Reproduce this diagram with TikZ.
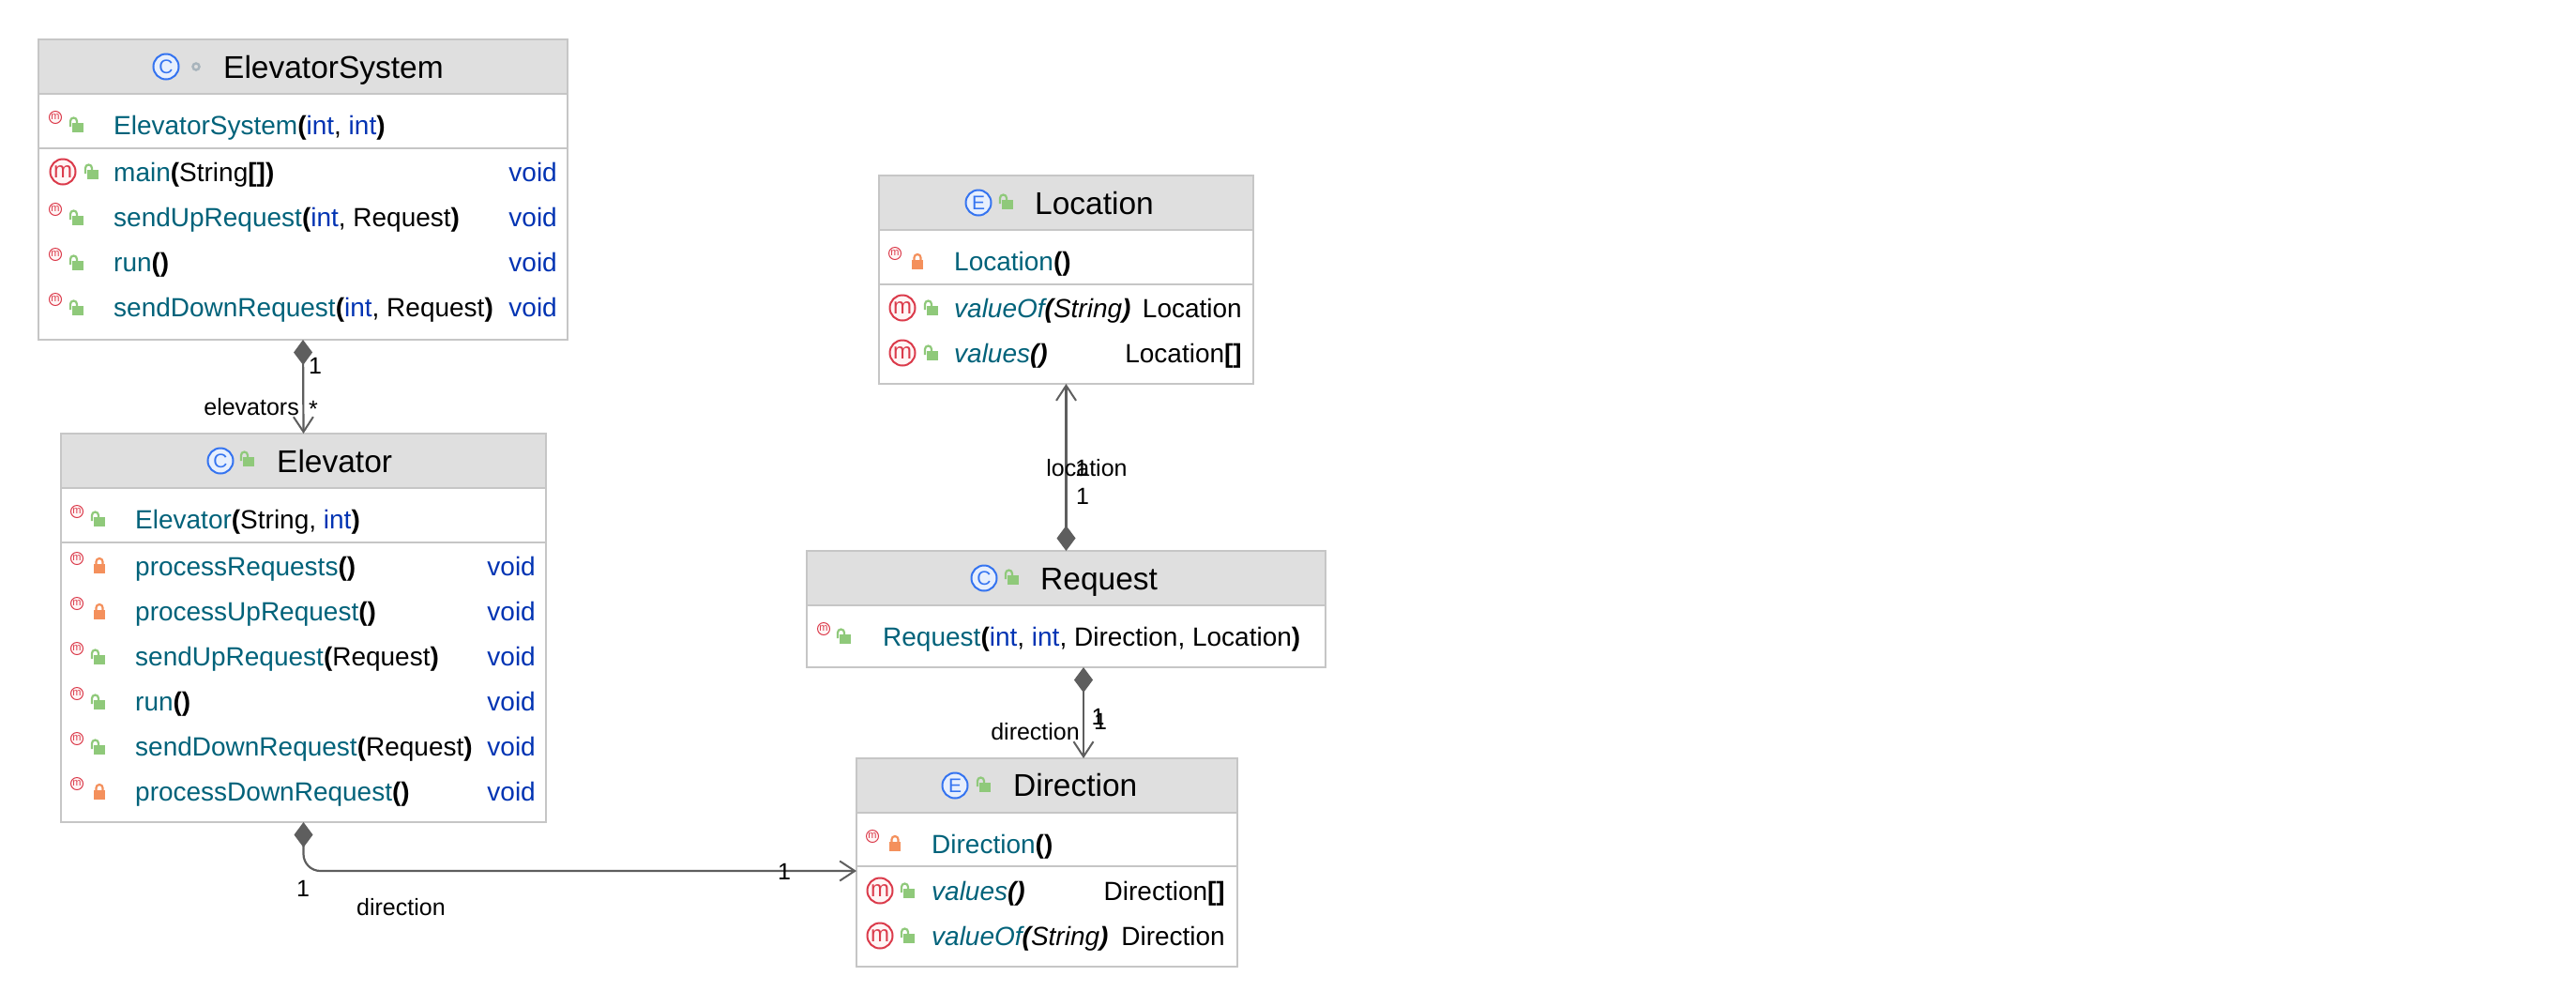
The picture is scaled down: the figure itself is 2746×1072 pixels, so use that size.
\documentclass[tikz,border=0pt]{standalone}
\usepackage{fontspec}
\setmainfont{Liberation Sans}
\usetikzlibrary{positioning,arrows.meta}
\definecolor{boxgray}{HTML}{C6C6C6}
\definecolor{headgray}{HTML}{DFDFDF}
\definecolor{linkgray}{HTML}{5E5E5E}
\definecolor{nameteal}{HTML}{00627A}
\definecolor{typeblue}{HTML}{0033B3}
\definecolor{iconblue}{HTML}{3574F0}
\definecolor{iconpale}{HTML}{E7EFFD}
\definecolor{iconred}{HTML}{DB3B4B}
\definecolor{iconrose}{HTML}{FFF5F5}
\definecolor{dotgray}{HTML}{A8B4BC}
\definecolor{opengreen}{HTML}{8FC97A}
\definecolor{shutorange}{HTML}{F4905C}
\newcommand{\nm}[1]{\textcolor{nameteal}{#1}}
\newcommand{\ty}[1]{\textcolor{typeblue}{#1}}
\newcommand{\pn}[1]{\textbf{#1}}
\tikzset{%
  classbox/.style={draw=boxgray,fill=white,line width=1.6pt,inner sep=0pt,outer sep=0pt,anchor=north west},
  classhead/.style={draw=boxgray,fill=headgray,line width=1.6pt,inner sep=0pt,outer sep=0pt,minimum height=58pt},
  divider/.style={draw=boxgray,line width=2.6pt},
  title/.style={font=\fontsize{33.5}{38}\selectfont,inner sep=0pt,anchor=base west},
  row/.style={font=\fontsize{28}{32}\selectfont,inner sep=0pt,anchor=base west},
  ret/.style={font=\fontsize{28}{32}\selectfont,inner sep=0pt,anchor=base east},
  lab/.style={font=\fontsize{25}{30}\selectfont,inner sep=0pt,anchor=base},
  kindicon/.style={circle,draw=iconblue,fill=iconpale,line width=2pt,minimum size=27pt,inner sep=0pt,text=iconblue,font=\fontsize{21}{22}\selectfont},
  bigm/.style={circle,draw=iconred,fill=iconrose,line width=2pt,minimum size=27pt,inner sep=0pt,text=iconred,font=\fontsize{24}{25}\selectfont},
  smallm/.style={circle,draw=iconred,fill=iconrose,line width=1pt,minimum size=13pt,inner sep=0pt,text=iconred,font=\fontsize{11}{12}\selectfont},
  dotmark/.style={circle,draw=dotgray,line width=2.5pt,minimum size=7pt,inner sep=0pt},
  link/.style={draw=linkgray,line width=2.2pt,
    {Diamond[length=27pt,width=20pt,line width=0pt,fill=linkgray]}-{Straight Barb[length=16pt,width=21pt,line width=2pt]}},
  pics/unlocked/.style={code={
    \fill[opengreen] (-6,-5) rectangle (6,5);
    \draw[opengreen,line width=2.2pt] (-8,-1) -- (-8,-7) arc[start angle=180,end angle=360,radius=3.5] -- (-1,-5);
  }},
  pics/locked/.style={code={
    \fill[shutorange] (-6,-5) rectangle (6,5);
    \draw[shutorange,line width=2.2pt] (-3.5,-5) -- (-3.5,-7.5) arc[start angle=180,end angle=360,radius=3.5] -- (3.5,-5);
  }}
}

\begin{document}
\begin{tikzpicture}[x=1pt,y=-1pt]
  \useasboundingbox (0,0) rectangle (2746,1072);

  \node[classbox,minimum width=564pt,minimum height=320pt] (system) at (41,42) {};
  \node[classhead,minimum width=564pt,below=0pt of system.north] (systemhead) {};
  \draw[divider] ([yshift=-116pt]system.north west) -- ([yshift=-116pt]system.north east);
  \node[kindicon] (systemkind) at (177,71) {C};
  \node[dotmark] (systemdot) at (209,71) {};
  \node[title] (systemtitle) at (238,83) {ElevatorSystem};
  \node[smallm] (systemctoricon) at (59,125) {m};
  \pic at (83,136) {unlocked};
  \node[row] (systemctor) at (121,143) {\nm{ElevatorSystem}\pn{(}\ty{int}, \ty{int}\pn{)}};
  \node[bigm] (systemmainicon) at (67,183) {m};
  \pic at (99,186) {unlocked};
  \node[row] (systemmain) at (121,193) {\nm{main}\pn{(}String\pn{[])}};
  \node[ret] (systemmainret) at (594,193) {\ty{void}};
  \node[smallm] (systemupicon) at (59,223) {m};
  \pic at (83,235) {unlocked};
  \node[row] (systemup) at (121,241) {\nm{sendUpRequest}\pn{(}\ty{int}, Request\pn{)}};
  \node[ret] (systemupret) at (594,241) {\ty{void}};
  \node[smallm] (systemrunicon) at (59,271) {m};
  \pic at (83,283) {unlocked};
  \node[row] (systemrun) at (121,289) {\nm{run}\pn{()}};
  \node[ret] (systemrunret) at (594,289) {\ty{void}};
  \node[smallm] (systemdownicon) at (59,319) {m};
  \pic at (83,331) {unlocked};
  \node[row] (systemdown) at (121,337) {\nm{sendDownRequest}\pn{(}\ty{int}, Request\pn{)}};
  \node[ret] (systemdownret) at (594,337) {\ty{void}};

  \node[classbox,minimum width=517pt,minimum height=414pt] (elevator) at (65,462) {};
  \node[classhead,minimum width=517pt,below=0pt of elevator.north] (elevatorhead) {};
  \draw[divider] ([yshift=-116pt]elevator.north west) -- ([yshift=-116pt]elevator.north east);
  \node[kindicon] (elevatorkind) at (235,491) {C};
  \node[title] (elevatortitle) at (295,503) {Elevator};
  \pic at (265,492) {unlocked};
  \node[smallm] (elevatorctoricon) at (82,545) {m};
  \pic at (106,556) {unlocked};
  \node[row] (elevatorctor) at (144,563) {\nm{Elevator}\pn{(}String, \ty{int}\pn{)}};
  \node[smallm] (elevatorreqsicon) at (82,595) {m};
  \pic at (106,606) {locked};
  \node[row] (elevatorreqs) at (144,613) {\nm{processRequests}\pn{()}};
  \node[ret] (elevatorreqsret) at (571,613) {\ty{void}};
  \node[smallm] (elevatorprocupicon) at (82,643) {m};
  \pic at (106,655) {locked};
  \node[row] (elevatorprocup) at (144,661) {\nm{processUpRequest}\pn{()}};
  \node[ret] (elevatorprocupret) at (571,661) {\ty{void}};
  \node[smallm] (elevatorupicon) at (82,691) {m};
  \pic at (106,703) {unlocked};
  \node[row] (elevatorup) at (144,709) {\nm{sendUpRequest}\pn{(}Request\pn{)}};
  \node[ret] (elevatorupret) at (571,709) {\ty{void}};
  \node[smallm] (elevatorrunicon) at (82,739) {m};
  \pic at (106,751) {unlocked};
  \node[row] (elevatorrun) at (144,757) {\nm{run}\pn{()}};
  \node[ret] (elevatorrunret) at (571,757) {\ty{void}};
  \node[smallm] (elevatordownicon) at (82,787) {m};
  \pic at (106,799) {unlocked};
  \node[row] (elevatordown) at (144,805) {\nm{sendDownRequest}\pn{(}Request\pn{)}};
  \node[ret] (elevatordownret) at (571,805) {\ty{void}};
  \node[smallm] (elevatorprocdownicon) at (82,835) {m};
  \pic at (106,847) {locked};
  \node[row] (elevatorprocdown) at (144,853) {\nm{processDownRequest}\pn{()}};
  \node[ret] (elevatorprocdownret) at (571,853) {\ty{void}};

  \node[classbox,minimum width=399pt,minimum height=222pt] (location) at (937,187) {};
  \node[classhead,minimum width=399pt,below=0pt of location.north] (locationhead) {};
  \draw[divider] ([yshift=-116pt]location.north west) -- ([yshift=-116pt]location.north east);
  \node[kindicon] (locationkind) at (1043,216) {E};
  \pic at (1074,218) {unlocked};
  \node[title] (locationtitle) at (1103,228) {Location};
  \node[smallm] (locationctoricon) at (954,270) {m};
  \pic at (978,282) {locked};
  \node[row] (locationctor) at (1017,288) {\nm{Location}\pn{()}};
  \node[bigm] (locationoficon) at (962,328) {m};
  \pic at (994,331) {unlocked};
  \node[row] (locationof) at (1017,338) {\textit{\nm{valueOf}\pn{(}String\pn{)}}};
  \node[ret] (locationofret) at (1324,338) {Location};
  \node[bigm] (locationvalicon) at (962,376) {m};
  \pic at (994,379) {unlocked};
  \node[row] (locationval) at (1017,386) {\textit{\nm{values}\pn{()}}};
  \node[ret] (locationvalret) at (1324,386) {Location\pn{[]}};

  \node[classbox,minimum width=553pt,minimum height=124pt] (request) at (860,587) {};
  \node[classhead,minimum width=553pt,below=0pt of request.north] (requesthead) {};
  \node[kindicon] (requestkind) at (1049,616) {C};
  \pic at (1080,618) {unlocked};
  \node[title] (requesttitle) at (1109,628) {Request};
  \node[smallm] (requestctoricon) at (878,670) {m};
  \pic at (901,681) {unlocked};
  \node[row] (requestctor) at (941,688) {\nm{Request}\pn{(}\ty{int}, \ty{int}, Direction, Location\pn{)}};

  \node[classbox,minimum width=406pt,minimum height=222pt] (direction) at (913,808) {};
  \node[classhead,minimum width=406pt,below=0pt of direction.north] (directionhead) {};
  \draw[divider] ([yshift=-115pt]direction.north west) -- ([yshift=-115pt]direction.north east);
  \node[kindicon] (directionkind) at (1018,837) {E};
  \pic at (1050,839) {unlocked};
  \node[title] (directiontitle) at (1080,848) {Direction};
  \node[smallm] (directionctoricon) at (930,891) {m};
  \pic at (954,902) {locked};
  \node[row] (directionctor) at (993,909) {\nm{Direction}\pn{()}};
  \node[bigm] (directionvalicon) at (938,949) {m};
  \pic at (969,952) {unlocked};
  \node[row] (directionval) at (993,959) {\textit{\nm{values}\pn{()}}};
  \node[ret] (directionvalret) at (1306,959) {Direction\pn{[]}};
  \node[bigm] (directionoficon) at (938,997) {m};
  \pic at (969,1000) {unlocked};
  \node[row] (directionof) at (993,1007) {\textit{\nm{valueOf}\pn{(}String\pn{)}}};
  \node[ret] (directionofret) at (1306,1007) {Direction};

  \draw[link] (system.south) -- (elevator.north);
  \draw[link] (request.north) -- (location.south);
  \draw[link] ([xshift=18.5pt]request.south) -- ([xshift=39pt]direction.north);
  \draw[link,rounded corners=18pt] (elevator.south) |- ([yshift=-9pt]direction.west);

  \node[lab] (systemone) at (336,398) {1};
  \node[lab,anchor=base east] (elevatorsname) at (319,442) {elevators};
  \node[lab] (elevatorsmany) at (334,444) {*};
  \node[lab] (locationname) at (1158.5,507) {location};
  \node[lab] (locationone) at (1153,507) {1};
  \node[lab] (requestone) at (1154,537) {1};
  \node[lab,anchor=base east] (directionname) at (1151,788) {direction};
  \node[lab] (directionone) at (1170.5,772) {1};
  \node[lab] (requesttwo) at (1173,777) {1};
  \node[lab] (elevatorone) at (323,955) {1};
  \node[lab,anchor=base west] (fieldname) at (380,975) {direction};
  \node[lab] (fieldone) at (836,937) {1};
\end{tikzpicture}
\end{document}
